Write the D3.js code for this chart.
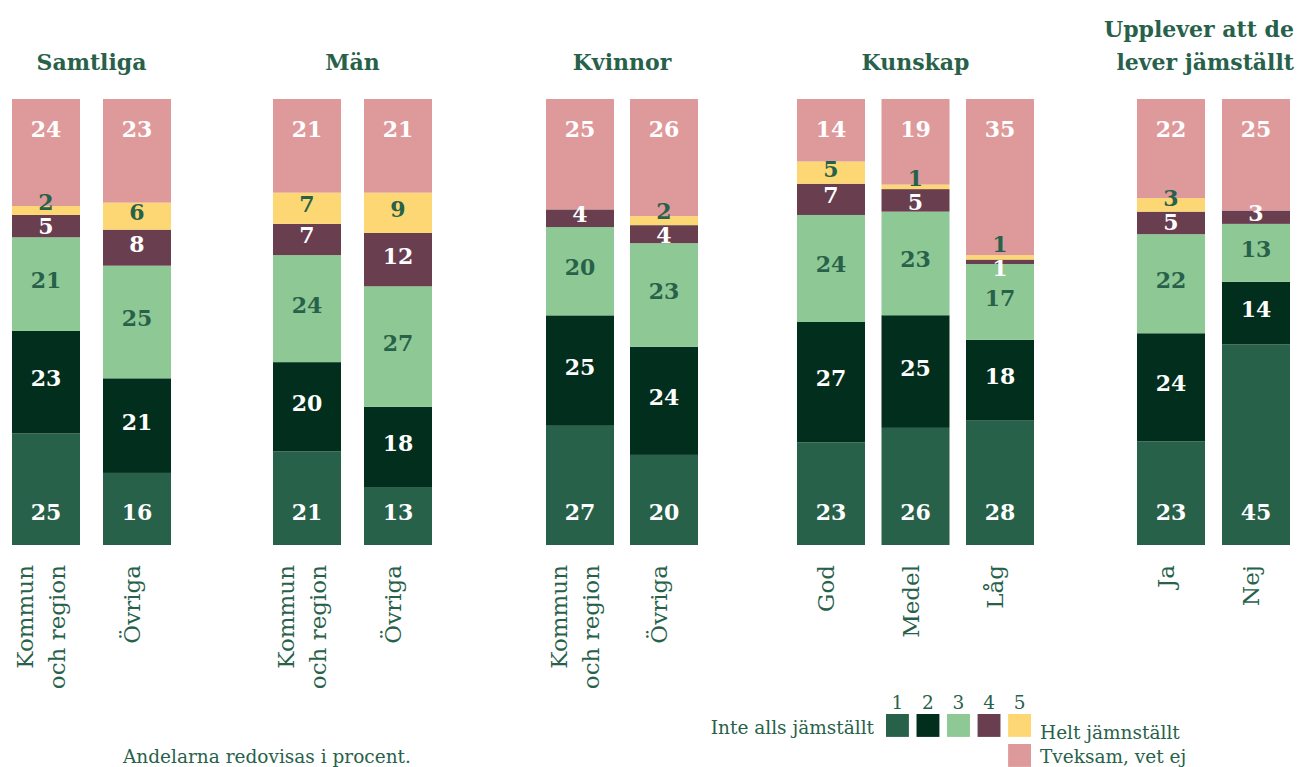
<!DOCTYPE html>
<html>
<head>
<meta charset="utf-8">
<script src="https://cdn.jsdelivr.net/npm/d3@7"></script>
<style>
  body { margin: 0; background: #fff; }
  text { font-family: "DejaVu Serif", serif; }
</style>
</head>
<body>
<div id="chart"></div>
<script>

// Data
// ==============================
var groupTitles = ["Samtliga", "Män", "Kvinnor", "Kunskap", "Upplever att de|lever jämställt"];
var groupCats = [
  ["Kommun|och region", "Övriga"],
  ["Kommun|och region", "Övriga"],
  ["Kommun|och region", "Övriga"],
  ["God", "Medel", "Låg"],
  ["Ja", "Nej"]
];
var seriesKeys = ["1", "2", "3", "4", "5", "Tveksam, vet ej"];
// one value per bar, left to right
var s1 = [25, 16, 21, 13, 27, 20, 23, 26, 28, 23, 45];
var s2 = [23, 21, 20, 18, 25, 24, 27, 25, 18, 24, 14];
var s3 = [21, 25, 24, 27, 20, 23, 24, 23, 17, 22, 13];
var s4 = [5, 8, 7, 12, 4, 4, 7, 5, 1, 5, 3];
var s5 = [2, 6, 7, 9, 0, 2, 5, 1, 1, 3, 0];
var s6 = [24, 23, 21, 21, 25, 26, 14, 19, 35, 22, 25];
var legendNums = ["1", "2", "3", "4", "5"];

// Layout
// ==============================
var svgWidth = 1298;
var svgHeight = 767;
var panels = [[12, 171], [273, 432], [546, 698], [797, 1034], [1137, 1290]];
var barW = 68;
var colors = ["#28614a", "#022e1d", "#8ec894", "#693e4f", "#fdd773", "#de9a9b"];
var labelColors = ["#fff", "#fff", "#28614a", "#fff", "#28614a", "#fff"];
var textColor = "#28614a";

var svg = d3.select("#chart")
  .append("svg")
  .attr("width", svgWidth)
  .attr("height", svgHeight);

var y = d3.scaleLinear().domain([0, 1]).range([545, 99]);

// Build bar rows
// ==============================
var rows = [];
var idx = 0;
groupCats.forEach(function(cats, g) {
  cats.forEach(function(c) {
    var row = { group: g, cat: c, key: g + "_" + c };
    var vals = [s1[idx], s2[idx], s3[idx], s4[idx], s5[idx], s6[idx]];
    seriesKeys.forEach(function(k, i) { row[k] = vals[i]; });
    rows.push(row);
    idx++;
  });
});

var stack = d3.stack().keys(seriesKeys).offset(d3.stackOffsetExpand);
var stacked = stack(rows);

// x scales per panel
var xScales = panels.map(function(p, g) {
  var W = p[1] - p[0];
  var n = groupCats[g].length;
  var pad = (W - barW * n) / (W - barW);
  return d3.scaleBand().domain(groupCats[g]).range(p).paddingInner(pad).paddingOuter(0);
});
function xPos(row) { return xScales[row.group](row.cat); }

// Bars
// ==============================
var layers = svg.selectAll("g.layer")
  .data(stacked)
  .enter()
  .append("g")
  .attr("class", "layer")
  .attr("fill", (d, i) => colors[i]);

layers.selectAll("rect")
  .data(d => d)
  .enter()
  .append("rect")
  .attr("x", d => xPos(d.data))
  .attr("y", d => y(d[1]))
  .attr("width", d => xScales[d.data.group].bandwidth())
  .attr("height", d => y(d[0]) - y(d[1]));

// Value labels with simple collision handling
// ==============================
rows.forEach(function(row, r) {
  var labels = [];
  stacked.forEach(function(layer, i) {
    var d = layer[r];
    var v = row[seriesKeys[i]];
    if (v <= 0) return;
    var c = (y(d[0]) + y(d[1])) / 2 - 4;
    if (i === 0) c = y(0) - 33;
    if (i === seriesKeys.length - 1) c = y(1) + 30;
    labels.push({ v: v, i: i, c: c, fixed: i === 0 || i === seriesKeys.length - 1 });
  });
  // labels ordered bottom to top => c decreasing
  var gap = 24;
  for (var it = 0; it < 50; it++) {
    for (var j = 0; j < labels.length - 1; j++) {
      var a = labels[j], b = labels[j + 1];
      var diff = a.c - b.c;
      if (diff < gap) {
        var push = (gap - diff) / 2;
        if (a.fixed && !b.fixed) { b.c -= push * 2; }
        else if (b.fixed && !a.fixed) { a.c += push * 2; }
        else if (!a.fixed && !b.fixed) { a.c += push; b.c -= push; }
      }
    }
  }
  var cx = xPos(row) + xScales[row.group].bandwidth() / 2;
  svg.append("g").selectAll("text")
    .data(labels)
    .enter()
    .append("text")
    .attr("x", cx)
    .attr("y", d => d.c + 8)
    .attr("text-anchor", "middle")
    .attr("font-size", 22)
    .attr("font-weight", "bold")
    .attr("fill", d => labelColors[d.i])
    .text(d => d.v);
});

// Group titles
// ==============================
groupTitles.forEach(function(t, g) {
  var lines = t.split("|");
  var title = svg.append("text")
    .attr("font-size", 22)
    .attr("font-weight", "bold")
    .attr("fill", textColor);
  if (lines.length === 1) {
    title.attr("x", (panels[g][0] + panels[g][1]) / 2)
      .attr("y", 70)
      .attr("text-anchor", "middle")
      .text(t);
  } else {
    title.attr("text-anchor", "end");
    lines.forEach(function(l, k) {
      title.append("tspan")
        .attr("x", 1294)
        .attr("y", 37 + k * 33)
        .text(l);
    });
  }
});

// Rotated category labels
// ==============================
rows.forEach(function(row) {
  var cx = xPos(row) + xScales[row.group].bandwidth() / 2;
  var lines = row.cat.split("|");
  lines.forEach(function(l, k) {
    var bx = cx + 3 + (k - (lines.length - 1) / 2) * 32;
    svg.append("text")
      .attr("transform", `translate(${bx}, 565) rotate(-90)`)
      .attr("text-anchor", "end")
      .attr("font-size", 23)
      .attr("fill", textColor)
      .text(l);
  });
});

// Legend
// ==============================
var legend = svg.append("g").attr("transform", "translate(886, 714)");
var lx = d3.scaleBand().domain(legendNums).range([0, 145]).paddingInner(0.25);

legend.selectAll("rect.sw")
  .data(legendNums)
  .enter()
  .append("rect")
  .attr("x", d => lx(d))
  .attr("y", 0)
  .attr("width", lx.bandwidth())
  .attr("height", lx.bandwidth())
  .attr("fill", (d, i) => colors[i]);

legend.selectAll("text.num")
  .data(legendNums)
  .enter()
  .append("text")
  .attr("x", d => lx(d) + lx.bandwidth() / 2)
  .attr("y", -5)
  .attr("text-anchor", "middle")
  .attr("font-size", 18.5)
  .attr("fill", textColor)
  .text(d => d);

legend.append("rect")
  .attr("x", lx("5"))
  .attr("y", 30)
  .attr("width", lx.bandwidth())
  .attr("height", lx.bandwidth())
  .attr("fill", colors[5]);

legend.append("text")
  .attr("x", -12)
  .attr("y", 20)
  .attr("text-anchor", "end")
  .attr("font-size", 18.5)
  .attr("fill", textColor)
  .text("Inte alls jämställt");

legend.append("text")
  .attr("x", 154)
  .attr("y", 25)
  .attr("font-size", 18.5)
  .attr("fill", textColor)
  .text("Helt jämnställt");

legend.append("text")
  .attr("x", 154)
  .attr("y", 49)
  .attr("font-size", 18.5)
  .attr("fill", textColor)
  .text(seriesKeys[5]);

// Footnote
// ==============================
svg.append("text")
  .attr("x", 123)
  .attr("y", 763)
  .attr("font-size", 18.5)
  .attr("fill", textColor)
  .text("Andelarna redovisas i procent.");

</script>
</body>
</html>
